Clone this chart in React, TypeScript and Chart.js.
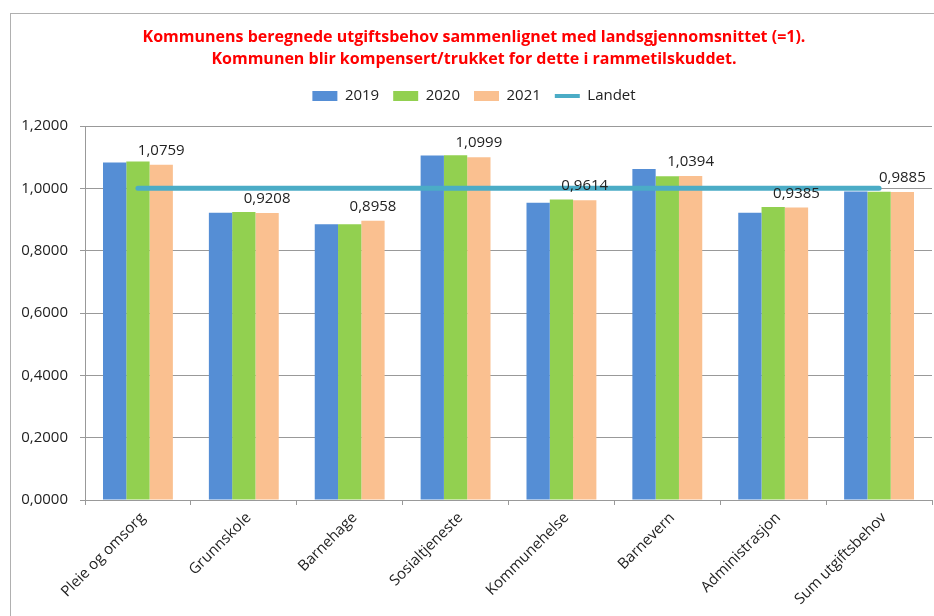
import React, { useEffect, useRef } from "react";
import { Chart, registerables } from "chart.js";

Chart.register(...registerables);

const categories = [
  "Pleie og omsorg",
  "Grunnskole",
  "Barnehage",
  "Sosialtjeneste",
  "Kommunehelse",
  "Barnevern",
  "Administrasjon",
  "Sum utgiftsbehov",
];
const values2019 = [1.083, 0.922, 0.885, 1.105, 0.954, 1.062, 0.922, 0.99];
const values2020 = [1.086, 0.924, 0.885, 1.106, 0.964, 1.039, 0.94, 0.989];
const values2021 = [1.0759, 0.9208, 0.8958, 1.0999, 0.9614, 1.0394, 0.9385, 0.9885];
const landet = [1, 1, 1, 1, 1, 1, 1, 1];
const titleLines = [
  "Kommunens beregnede utgiftsbehov sammenlignet med landsgjennomsnittet (=1).",
  "Kommunen blir kompensert/trukket for dette i rammetilskuddet.",
];
const yMin = 0;
const yMax = 1.2;
const yStep = 0.2;

const FONT = "'Open Sans', 'Liberation Sans', sans-serif";
const fmt = (v: number) => v.toFixed(4).replace(".", ",");

const labelPlugin = {
  id: "barValueLabels",
  afterDatasetsDraw(chart: any) {
    const meta = chart.getDatasetMeta(2);
    const ctx = chart.ctx;
    ctx.save();
    ctx.font = `15px ${FONT}`;
    ctx.fillStyle = "#222222";
    ctx.textAlign = "center";
    ctx.textBaseline = "alphabetic";
    meta.data.forEach((el: any, i: number) => {
      ctx.fillText(fmt(values2021[i]), el.x, el.y - 10);
    });
    ctx.restore();
  },
};

export default function App() {
  const ref = useRef<HTMLCanvasElement | null>(null);
  useEffect(() => {
    if (!ref.current) return;
    const chart = new Chart(ref.current, {
      type: "bar",
      data: {
        labels: categories,
        datasets: [
          { label: "2019", data: values2019, backgroundColor: "#558ED5", categoryPercentage: 0.66, barPercentage: 1 },
          { label: "2020", data: values2020, backgroundColor: "#92D050", categoryPercentage: 0.66, barPercentage: 1 },
          { label: "2021", data: values2021, backgroundColor: "#FAC090", categoryPercentage: 0.66, barPercentage: 1 },
          {
            type: "line",
            label: "Landet",
            data: landet,
            borderColor: "#4BACC6",
            backgroundColor: "#4BACC6",
            borderWidth: 5,
            pointRadius: 0,
            fill: false,
            borderCapStyle: "round",
            order: -1,
          } as any,
        ],
      },
      options: {
        responsive: false,
        animation: false,
        layout: { padding: { left: 16, right: 2, top: 0, bottom: 0 } },
        plugins: {
          title: {
            display: true,
            text: titleLines,
            color: "#FF0000",
            font: { family: FONT, size: 16, weight: "bold", lineHeight: 22 / 16 },
            padding: { top: 26, bottom: 4.5 },
          },
          subtitle: {
            display: true,
            text: "",
            weight: 500,
            font: { size: 1, lineHeight: 1 },
            padding: { top: 0, bottom: 11.5 },
          } as any,
          legend: {
            position: "top",
            labels: {
              usePointStyle: true,
              pointStyleWidth: 25,
              boxHeight: 10,
              padding: 14,
              color: "#222222",
              font: { family: FONT, size: 15 },
              sort: (a: any, b: any) => a.datasetIndex - b.datasetIndex,
              generateLabels: (chart: any) => {
                const items = (Chart as any).defaults.plugins.legend.labels.generateLabels(chart);
                return items.map((it: any) => {
                  if (it.datasetIndex === 3) {
                    return { ...it, pointStyle: "line", strokeStyle: "#4BACC6", lineWidth: 4 };
                  }
                  return { ...it, pointStyle: "rect", lineWidth: 0 };
                });
              },
            },
          },
          tooltip: { enabled: false },
        },
        scales: {
          x: {
            grid: { display: true, drawOnChartArea: false, drawTicks: true, tickLength: 5, color: "#999999" },
            border: { display: true, color: "#999999" },
            ticks: {
              autoSkip: false,
              maxRotation: 45,
              minRotation: 45,
              color: "#222222",
              font: { family: FONT, size: 15 },
              padding: 4,
              labelOffset: 5,
            },
            afterFit: (s: any) => {
              s.height = 116;
            },
          },
          y: {
            min: yMin,
            max: yMax,
            ticks: {
              stepSize: yStep,
              color: "#222222",
              font: { family: FONT, size: 15 },
              padding: 12,
              callback: (v: any) => fmt(Number(v)),
            },
            grid: { color: "#999999", tickLength: 5 },
            border: { display: true, color: "#999999" },
            afterFit: (s: any) => {
              s.width = 69;
            },
          },
        },
      },
      plugins: [labelPlugin],
    });
    return () => chart.destroy();
  }, []);

  return (
    <div style={{ position: "fixed", left: 0, top: 0, width: 934, height: 616, background: "#ffffff", overflow: "hidden" }}>
      <div
        style={{
          position: "absolute",
          left: 10,
          top: 13,
          width: 1000,
          height: 1000,
          borderLeft: "1px solid #b0b0b0",
          borderTop: "1px solid #b0b0b0",
        }}
      />
      <canvas ref={ref} width={934} height={616} style={{ position: "absolute", left: 0, top: 0, display: "block" }} />
    </div>
  );
}
